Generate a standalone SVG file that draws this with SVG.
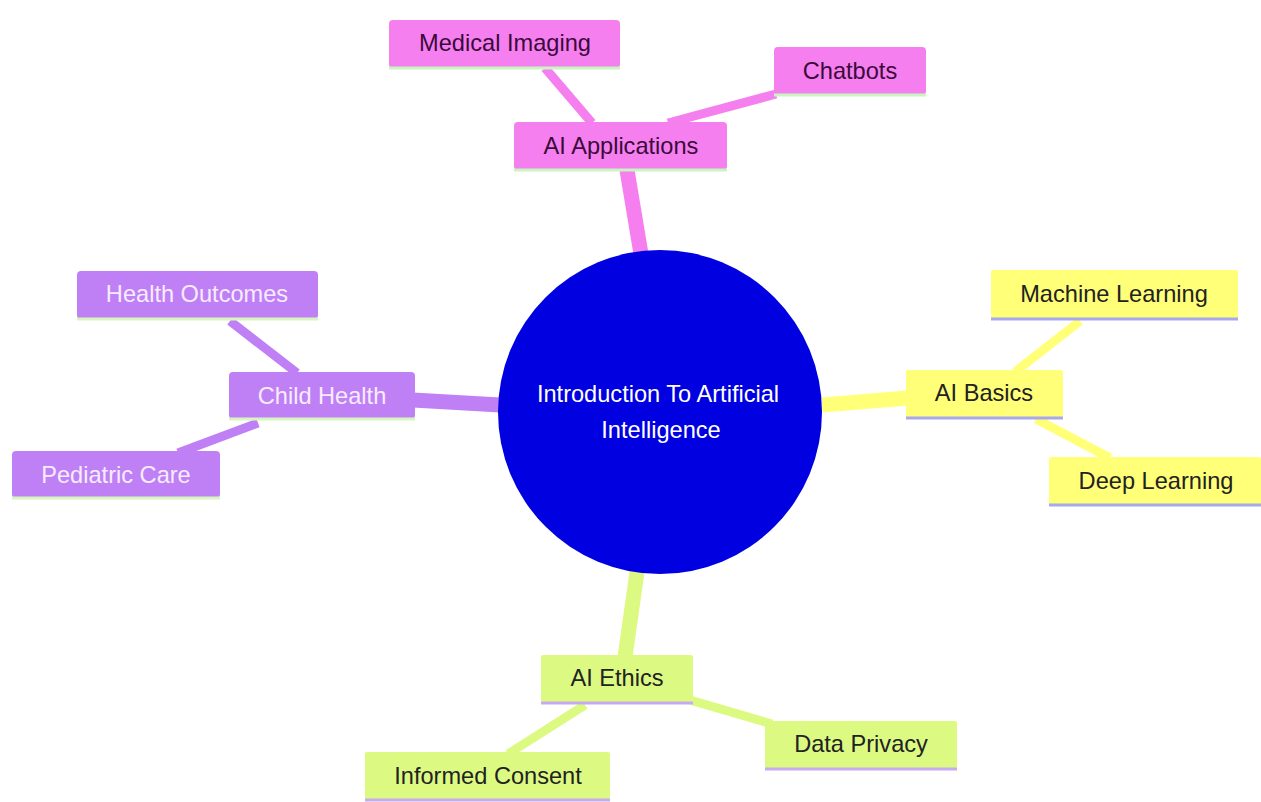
<svg xmlns="http://www.w3.org/2000/svg" width="1261" height="802" viewBox="0 0 1261 802">
<style>
text{font-family:"Liberation Sans",Arial,sans-serif;font-size:23.6px;text-anchor:middle}
.e{fill:none;stroke-linecap:butt}
.pk{fill:#f67ff0}.pkt{fill:#3a0a3a}.pkl{stroke:#c8f5c0}
.pu{fill:#c080f5}.put{fill:#f6ecff}.pul{stroke:#d8f5c0}
.ye{fill:#ffff78}.yet{fill:#222}.yel{stroke:#a8a8ee}
.gr{fill:#dcfa82}.grt{fill:#222}.grl{stroke:#c8aaf0}
.ul{stroke-width:3}
</style>
<rect width="1261" height="802" fill="#fff"/>
<g id="connectors">
<line class="e" x1="627" y1="170" x2="641" y2="254" stroke="#f67ff0" stroke-width="15"/>
<line class="e" x1="545" y1="68" x2="592" y2="123" stroke="#f67ff0" stroke-width="9"/>
<line class="e" x1="668" y1="123" x2="776" y2="94" stroke="#f67ff0" stroke-width="9"/>
<line class="e" x1="413" y1="400" x2="500" y2="405" stroke="#c080f5" stroke-width="15"/>
<line class="e" x1="230" y1="321" x2="297" y2="373" stroke="#c080f5" stroke-width="9"/>
<line class="e" x1="258" y1="423" x2="178" y2="453" stroke="#c080f5" stroke-width="9"/>
<line class="e" x1="822" y1="405" x2="908" y2="398" stroke="#ffff78" stroke-width="15"/>
<line class="e" x1="1080" y1="321" x2="1015" y2="372" stroke="#ffff78" stroke-width="9"/>
<line class="e" x1="1036" y1="419" x2="1110" y2="458" stroke="#ffff78" stroke-width="9"/>
<line class="e" x1="637" y1="572" x2="625" y2="657" stroke="#dcfa82" stroke-width="15"/>
<line class="e" x1="585" y1="705" x2="508" y2="754" stroke="#dcfa82" stroke-width="9"/>
<line class="e" x1="690" y1="700" x2="772" y2="724" stroke="#dcfa82" stroke-width="9"/>
</g>
<g id="root">
<circle cx="660" cy="412" r="162" fill="#0000e0"/>
<text x="658" y="402" fill="#fff" font-size="22.6">Introduction To Artificial</text>
<text x="661" y="438" fill="#fff" font-size="22.6">Intelligence</text>
</g>
<g id="ai-applications">
<rect class="pk" x="514" y="122" width="213" height="48" rx="4"/>
<line class="pkl ul" x1="514" y1="170" x2="727" y2="170"/>
<text class="pkt" x="621" y="154">AI Applications</text>
</g>
<g id="medical-imaging">
<rect class="pk" x="389" y="20" width="231" height="48" rx="4"/>
<line class="pkl ul" x1="389" y1="68" x2="620" y2="68"/>
<text class="pkt" x="505" y="51">Medical Imaging</text>
</g>
<g id="chatbots">
<rect class="pk" x="774" y="47" width="152" height="48" rx="4"/>
<line class="pkl ul" x1="774" y1="95" x2="926" y2="95"/>
<text class="pkt" x="850" y="79">Chatbots</text>
</g>
<g id="child-health">
<rect class="pu" x="229" y="372" width="186" height="47" rx="4"/>
<line class="pul ul" x1="229" y1="419" x2="415" y2="419"/>
<text class="put" x="322" y="404">Child Health</text>
</g>
<g id="health-outcomes">
<rect class="pu" x="77" y="271" width="241" height="48" rx="4"/>
<line class="pul ul" x1="77" y1="319" x2="318" y2="319"/>
<text class="put" x="197" y="302">Health Outcomes</text>
</g>
<g id="pediatric-care">
<rect class="pu" x="12" y="451" width="208" height="47" rx="4"/>
<line class="pul ul" x1="12" y1="498" x2="220" y2="498"/>
<text class="put" x="116" y="483">Pediatric Care</text>
</g>
<g id="ai-basics">
<rect class="ye" x="906" y="370" width="157" height="48" rx="2"/>
<line class="yel ul" x1="906" y1="418" x2="1063" y2="418"/>
<text class="yet" x="984" y="401">AI Basics</text>
</g>
<g id="machine-learning">
<rect class="ye" x="991" y="270" width="247" height="49" rx="2"/>
<line class="yel ul" x1="991" y1="319" x2="1238" y2="319"/>
<text class="yet" x="1114" y="302">Machine Learning</text>
</g>
<g id="deep-learning">
<rect class="ye" x="1049" y="457" width="212" height="48" rx="2"/>
<line class="yel ul" x1="1049" y1="505" x2="1261" y2="505"/>
<text class="yet" x="1156" y="489">Deep Learning</text>
</g>
<g id="ai-ethics">
<rect class="gr" x="541" y="655" width="152" height="48" rx="2"/>
<line class="grl ul" x1="541" y1="703" x2="693" y2="703"/>
<text class="grt" x="617" y="686">AI Ethics</text>
</g>
<g id="informed-consent">
<rect class="gr" x="365" y="752" width="245" height="48" rx="2"/>
<line class="grl ul" x1="365" y1="800" x2="610" y2="800"/>
<text class="grt" x="488" y="784">Informed Consent</text>
</g>
<g id="data-privacy">
<rect class="gr" x="765" y="721" width="192" height="48" rx="2"/>
<line class="grl ul" x1="765" y1="769" x2="957" y2="769"/>
<text class="grt" x="861" y="752">Data Privacy</text>
</g>
</svg>
